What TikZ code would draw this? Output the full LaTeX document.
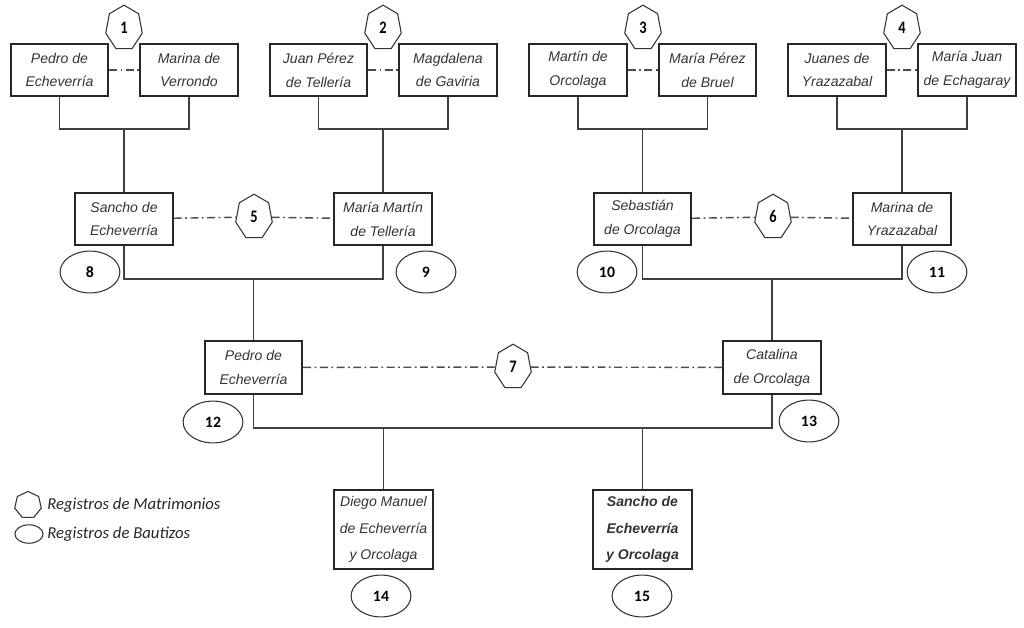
\documentclass[tikz,border=0pt]{standalone}
\usepackage{fontspec}
\setmainfont{Liberation Sans}
\newfontfamily\carlito{Carlito}
\usetikzlibrary{shapes.geometric}

\begin{document}
\begin{tikzpicture}[x=0.02cm,y=-0.02cm,
    persona/.style={draw=black!85,line width=1.1pt,minimum width=55.5pt,
        minimum height=30pt,inner sep=0pt,align=center,text=black!80,
        font=\fontsize{8}{13.6}\selectfont\itshape},
    hijo/.style={persona,minimum width=56pt,minimum height=44.8pt,
        font=\fontsize{8}{15}\selectfont\itshape},
    hepta/.style={regular polygon,regular polygon sides=7,draw=black!80,
        line width=0.6pt,inner sep=0pt,font=\carlito\bfseries\fontsize{9}{9}\selectfont},
    matri/.style={hepta,minimum size=26pt,xscale=0.82,
        font=\carlito\bfseries\fontsize{10}{10}\selectfont},
    bauti/.style={ellipse,draw=black!80,line width=0.6pt,minimum width=34pt,
        minimum height=23.8pt,inner sep=0pt,font=\carlito\bfseries\fontsize{9}{9}\selectfont}]
    \tikzstyle{linea}=[black!75,line width=0.6pt]
    \tikzstyle{union}=[black!70,line width=0.8pt,dash pattern=on 4.5pt off 2pt on 1pt off 2pt]
    \tikzstyle{leyenda}=[anchor=west,inner sep=0pt,text=black!85,
        font=\carlito\itshape\fontsize{9.5}{9.5}\selectfont]

    \useasboundingbox (0,0) rectangle (1024,627);

    % abuelos
    \node[persona] (p1) at (59.5,70) {Pedro de\\Echeverría};
    \node[persona] (p2) at (189,70) {Marina de\\Verrondo};
    \node[persona] (p3) at (318.5,70) {Juan Pérez\\de Tellería};
    \node[persona] (p4) at (448,70) {Magdalena\\de Gaviria};
    \node[persona] (p5) at (578,70) {Martín de\\Orcolaga};
    \node[persona] (p6) at (707.5,70) {María Pérez\\de Bruel};
    \node[persona] (p7) at (837,70) {Juanes de\\Yrazazabal};
    \node[persona] (p8) at (967,70) {María Juan\\de Echagaray};

    \node[matri] (m1) at (124,28) {1};
    \node[matri] (m2) at (383,28) {2};
    \node[matri] (m3) at (643,28) {3};
    \node[matri] (m4) at (902,28) {4};

    \draw[union] (p1) -- (p2);
    \draw[union] (p3) -- (p4);
    \draw[union] (p5) -- (p6);
    \draw[union] (p7) -- (p8);

    % padres
    \node[persona] (s1) at (124,219) {Sancho de\\Echeverría};
    \node[persona] (s2) at (383,219) {María Martín\\de Tellería};
    \node[persona] (s3) at (642.5,219) {Sebastián\\de Orcolaga};
    \node[persona] (s4) at (902,219) {Marina de\\Yrazazabal};

    \node[matri] (m5) at (254,217) {5};
    \node[matri] (m6) at (773,217) {6};

    \draw[union] (s1) -- (m5) -- (s2);
    \draw[union] (s3) -- (m6) -- (s4);

    \node[bauti] (b8) at (90,272) {8};
    \node[bauti] (b9) at (426,272) {9};
    \node[bauti] (b10) at (607,272) {10};
    \node[bauti] (b11) at (937,272) {11};

    \draw[linea] (p1) -- (p1 |- 0,129) -| (p2);
    \draw[linea] (p3) -- (p3 |- 0,129) -| (p4);
    \draw[linea] (p5) -- (p5 |- 0,129) -| (p6);
    \draw[linea] (p7) -- (p7 |- 0,129) -| (p8);
    \draw[linea] (s1) -- (s1 |- 0,129);
    \draw[linea] (s2) -- (s2 |- 0,129);
    \draw[linea] (s3) -- (s3 |- 0,129);
    \draw[linea] (s4) -- (s4 |- 0,129);

    % matrimonio 7
    \node[persona] (h1) at (253.5,367.5) {Pedro de\\Echeverría};
    \node[persona] (h2) at (772,367.5) {Catalina\\de Orcolaga};
    \node[matri] (m7) at (513,367) {7};
    \draw[union] (h1) -- (m7) -- (h2);

    \node[bauti] (b12) at (213,422) {12};
    \node[bauti] (b13) at (809,421) {13};

    \draw[linea] (s1) -- (s1 |- 0,279) -| (s2);
    \draw[linea] (s3) -- (s3 |- 0,279) -| (s4);
    \draw[linea] (h1) -- (h1 |- 0,279);
    \draw[linea] (h2) -- (h2 |- 0,279);

    % hijos
    \node[hijo] (c1) at (383.5,529.5) {Diego Manuel\\de Echeverría\\y Orcolaga};
    \node[hijo,font=\fontsize{8}{15}\selectfont\bfseries\itshape] (c2) at (642.5,529.5)
        {Sancho de\\Echeverría\\y Orcolaga};

    \node[bauti] (b14) at (381,596) {14};
    \node[bauti] (b15) at (642,596) {15};

    \draw[linea] (h1) -- (h1 |- 0,428) -| (h2);
    \draw[linea] (c1) -- (c1 |- 0,428);
    \draw[linea] (c2) -- (c2 |- 0,428);

    % leyenda
    \node[hepta,minimum size=15.5pt] (lm) at (28,505) {};
    \node[leyenda] (tm) at (47,505) {Registros de Matrimonios};
    \node[bauti,minimum width=16pt,minimum height=10.5pt] (lb) at (29,534) {};
    \node[leyenda] (tb) at (47,534) {Registros de Bautizos};
\end{tikzpicture}
\end{document}
